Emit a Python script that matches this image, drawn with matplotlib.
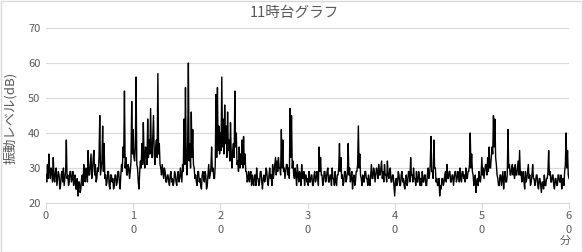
import numpy as np
import matplotlib
matplotlib.use("Agg")
import matplotlib.pyplot as plt
from matplotlib.patches import Rectangle

plt.rcParams['font.family'] = ['Noto Sans CJK JP', 'DejaVu Sans']

title = "11時台グラフ"
ylabel = "振動レベル(dB)"
xunit = "分"

# one reading every 5 s, one row per minute
levels = [
    28, 26, 31, 27, 34, 29, 27, 30, 29, 26, 33, 27,
    26, 29, 30, 25, 27, 29, 28, 24, 25, 28, 29, 26,
    30, 25, 27, 29, 38, 27, 28, 25, 26, 29, 29, 26,
    27, 29, 25, 27, 28, 24, 24, 27, 22, 26, 26, 23,
    24, 27, 28, 25, 31, 27, 26, 30, 29, 26, 35, 28,
    28, 31, 34, 27, 29, 33, 35, 28, 31, 26, 27, 30,
    29, 33, 45, 28, 30, 32, 42, 29, 37, 27, 28, 25,
    26, 29, 29, 25, 24, 28, 28, 26, 27, 24, 25, 28,
    28, 25, 26, 29, 29, 26, 24, 28, 31, 29, 36, 33,
    52, 30, 33, 28, 28, 31, 30, 27, 29, 32, 49, 34,
    41, 33, 32, 36, 56, 31, 30, 26, 24, 29, 32, 30,
    37, 31, 43, 33, 30, 36, 35, 31, 44, 33, 38, 34,
    47, 35, 33, 39, 45, 34, 31, 36, 38, 33, 57, 34,
    37, 31, 30, 28, 31, 29, 27, 30, 29, 26, 26, 28,
    28, 26, 25, 28, 29, 26, 27, 25, 26, 29, 28, 26,
    25, 28, 29, 26, 27, 30, 28, 26, 31, 29, 44, 31,
    53, 33, 28, 36, 60, 32, 37, 30, 46, 33, 41, 31,
    30, 27, 28, 26, 25, 29, 29, 26, 27, 25, 24, 28,
    29, 27, 26, 29, 28, 24, 25, 28, 31, 27, 28, 30,
    36, 29, 30, 27, 27, 31, 51, 33, 53, 35, 42, 34,
    40, 35, 56, 36, 44, 34, 48, 37, 42, 33, 46, 35,
    38, 32, 43, 34, 30, 35, 37, 33, 52, 36, 40, 31,
    32, 29, 36, 30, 34, 31, 38, 30, 39, 31, 34, 29,
    29, 26, 27, 29, 26, 28, 29, 25, 28, 26, 25, 28,
    28, 25, 30, 27, 27, 25, 26, 29, 29, 26, 24, 27,
    28, 26, 27, 30, 29, 26, 25, 28, 30, 27, 28, 25,
    31, 27, 29, 31, 33, 28, 32, 29, 33, 30, 30, 28,
    41, 30, 38, 29, 30, 27, 29, 31, 31, 28, 30, 27,
    47, 33, 45, 30, 32, 28, 27, 30, 28, 25, 31, 28,
    26, 29, 28, 25, 31, 27, 27, 29, 25, 28, 28, 26,
    27, 25, 29, 26, 26, 28, 28, 25, 25, 28, 29, 26,
    27, 29, 28, 25, 36, 29, 33, 28, 28, 25, 26, 29,
    29, 26, 27, 29, 30, 26, 26, 28, 28, 25, 30, 27,
    27, 25, 29, 26, 25, 28, 28, 30, 37, 29, 33, 27,
    28, 25, 26, 29, 29, 26, 27, 29, 37, 28, 30, 26,
    27, 29, 24, 27, 28, 25, 26, 29, 29, 31, 42, 30,
    34, 28, 27, 25, 28, 26, 26, 29, 29, 27, 27, 25,
    28, 26, 25, 28, 31, 27, 27, 30, 29, 26, 28, 30,
    29, 27, 31, 28, 28, 30, 32, 27, 29, 26, 31, 28,
    28, 26, 32, 28, 27, 29, 30, 26, 26, 28, 28, 25,
    22, 26, 27, 25, 26, 29, 28, 25, 25, 28, 29, 26,
    27, 25, 24, 27, 28, 25, 26, 29, 29, 26, 33, 28,
    28, 26, 30, 27, 27, 25, 29, 26, 26, 29, 28, 25,
    27, 25, 29, 26, 26, 28, 28, 25, 25, 28, 30, 27,
    28, 31, 39, 29, 29, 27, 38, 30, 30, 26, 27, 25,
    25, 27, 22, 25, 24, 27, 27, 25, 26, 28, 29, 26,
    31, 27, 27, 29, 29, 26, 26, 28, 28, 25, 27, 29,
    29, 26, 27, 29, 28, 26, 30, 27, 26, 29, 29, 27,
    28, 26, 30, 27, 27, 29, 29, 31, 40, 30, 34, 29,
    28, 25, 26, 28, 23, 26, 27, 25, 29, 27, 26, 28,
    33, 28, 30, 27, 29, 31, 31, 28, 33, 29, 36, 30,
    30, 33, 36, 34, 45, 36, 44, 33, 31, 28, 27, 25,
    25, 28, 28, 25, 27, 29, 24, 27, 29, 26, 26, 28,
    41, 30, 31, 28, 28, 30, 31, 28, 30, 27, 31, 28,
    28, 30, 32, 28, 35, 28, 29, 26, 27, 29, 26, 24,
    29, 26, 27, 29, 31, 27, 28, 25, 26, 28, 31, 27,
    27, 25, 26, 28, 28, 25, 24, 27, 27, 25, 23, 26,
    26, 24, 28, 25, 25, 27, 27, 29, 35, 28, 29, 26,
    26, 28, 28, 25, 24, 27, 27, 25, 25, 28, 28, 26,
    26, 28, 24, 27, 27, 25, 29, 31, 40, 30, 35, 28,
    27,
]
minutes = np.arange(len(levels)) * 5 / 60

xticks = [0, 10, 20, 30, 40, 50, 60]
xticklabels = ["0", "1\n0", "2\n0", "3\n0", "4\n0", "5\n0", "6\n0"]
yticks = [20, 30, 40, 50, 60, 70]

W, H = 583, 252
fig = plt.figure(figsize=(W / 100, H / 100), dpi=100)
fig.patches.append(Rectangle((0.5 / W, 0.5 / H), 1 - 1.5 / W, 1 - 1.5 / H,
                             transform=fig.transFigure, fill=False,
                             edgecolor='#d9d9d9', lw=1))
ax = fig.add_axes([46 / W, 1 - 203 / H, 523 / W, 175 / H])

ax.plot(minutes, levels, color='black', lw=1.0)
ax.set_xlim(0, 60)
ax.set_ylim(20, 70)
ax.set_xticks(xticks)
ax.set_xticklabels(xticklabels, fontsize=8, color='#595959', linespacing=1.45)
ax.set_yticks(yticks)
ax.set_yticklabels([str(v) for v in yticks], fontsize=8, color='#595959')
ax.tick_params(axis='x', length=4, color='#d9d9d9', pad=2)
ax.tick_params(axis='y', length=0, pad=4)
ax.grid(axis='y', color='#d9d9d9', lw=0.8)
ax.set_axisbelow(True)
for s in ['top', 'right', 'left']:
    ax.spines[s].set_visible(False)
ax.spines['bottom'].set_color('#d9d9d9')

fig.text(294 / W, 1 - 13 / H, title, ha='center', va='center',
         fontsize=10.5, color='#595959')
fig.text(10 / W, 1 - 118 / H, ylabel, ha='center', va='center',
         rotation=90, fontsize=9.5, color='#595959')
fig.text(565 / W, 1 - 241 / H, xunit, ha='center', va='center',
         fontsize=8, color='#595959')

fig.savefig("out.png", dpi=100)
